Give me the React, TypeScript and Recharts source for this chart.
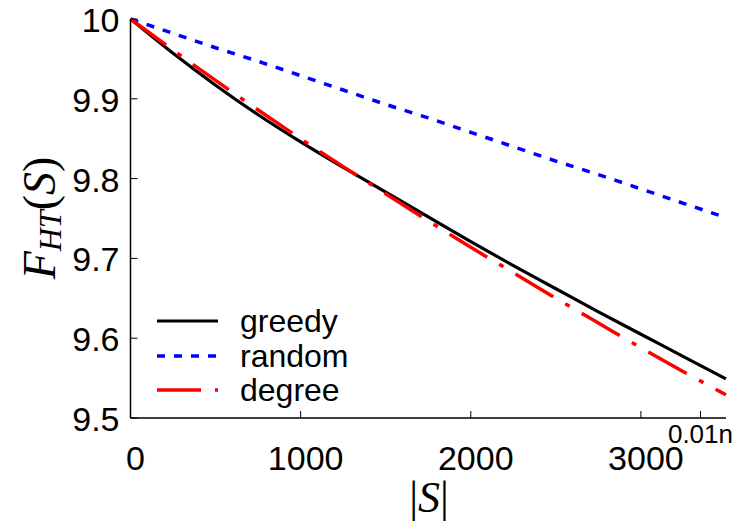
import { LineChart, Line, XAxis, YAxis, Label } from 'recharts'

// |S| values and F_HT(S)
const sizes = [0, 250, 500, 750, 1000, 1250, 1500, 1750, 2000, 2250, 2500, 2750, 3000, 3250, 3500]
const greedy = [10, 9.957, 9.917, 9.88, 9.846, 9.814, 9.783, 9.752, 9.721, 9.691, 9.662, 9.633, 9.605, 9.577, 9.549]
const random = [10, 9.982, 9.964, 9.947, 9.929, 9.911, 9.893, 9.876, 9.858, 9.84, 9.822, 9.805, 9.787, 9.769, 9.751]
const degree = [10, 9.961, 9.923, 9.886, 9.85, 9.815, 9.781, 9.747, 9.714, 9.682, 9.65, 9.619, 9.588, 9.558, 9.529]

const xTicks = [0, 1000, 2000, 3000]
const markTick = 3350
const markLabel = '0.01n'
const yTicks = [9.5, 9.6, 9.7, 9.8, 9.9, 10]

const SERIES = [
  { key: 'greedy', name: 'greedy', color: '#000000', dash: undefined, width: 3.2 },
  { key: 'random', name: 'random', color: '#0000ff', dash: '8 9', width: 3.5 },
  { key: 'degree', name: 'degree', color: '#ff0000', dash: '44 14 5 14', width: 3.5 },
]

const data = sizes.map((s, i) => ({ s, greedy: greedy[i], random: random[i], degree: degree[i] }))

const FONT = '"Liberation Sans", Arial, sans-serif'
const SERIF = '"Liberation Serif", "Times New Roman", serif'

function XTick(props: any) {
  const { x, y, payload } = props
  if (payload.value === markTick) {
    return (
      <g>
        <line x1={x} x2={x} y1={y} y2={y - 7} stroke="#000" strokeWidth={1} />
        <text x={x} y={y + 25} textAnchor="middle" fontFamily={FONT} fontSize={26} fill="#000">
          {markLabel}
        </text>
      </g>
    )
  }
  return (
    <g>
      <line x1={x} x2={x} y1={y} y2={y - 7} stroke="#000" strokeWidth={1} />
      <text x={x + 5} y={y + 52} textAnchor="middle" fontFamily={FONT} fontSize={34} fill="#000">
        {payload.value}
      </text>
    </g>
  )
}

function YTick(props: any) {
  const { x, y, payload } = props
  return (
    <g>
      <line x1={x} x2={x + 7} y1={y} y2={y} stroke="#000" strokeWidth={1} />
      <text x={x - 11} y={y + 13} textAnchor="end" fontFamily={FONT} fontSize={34} fill="#000">
        {payload.value === 10 ? '10' : payload.value.toFixed(1)}
      </text>
    </g>
  )
}

function LegendBox() {
  return (
    <div
      style={{
        position: 'absolute',
        left: 157,
        top: 304,
        fontFamily: FONT,
        fontSize: 32,
        lineHeight: '34.5px',
        color: '#000',
      }}
    >
      {SERIES.map((s) => (
        <div key={s.key} style={{ display: 'flex', alignItems: 'center', height: 34.5 }}>
          <svg width={80} height={20} style={{ marginRight: 3 }}>
            <line x1={0} x2={61} y1={10} y2={10} stroke={s.color} strokeWidth={s.width} strokeDasharray={s.dash} />
          </svg>
          <span>{s.name}</span>
        </div>
      ))}
    </div>
  )
}

export default function App() {
  return (
    <div style={{ position: 'fixed', left: 0, top: 0, width: 750, height: 525, background: '#fff' }}>
      <LineChart width={750} height={525} data={data} margin={{ top: 19, right: 24, bottom: 47, left: 0 }}>
        <XAxis
          dataKey="s"
          type="number"
          domain={[0, 3500]}
          ticks={[...xTicks, markTick]}
          interval={0}
          height={60}
          tickSize={0}
          tickMargin={0}
          tick={<XTick />}
          axisLine={{ stroke: '#000', strokeWidth: 1.5 }}
          tickLine={false}
        >
          <Label
            content={() => (
              <text x={429} y={512} textAnchor="middle" fontFamily={SERIF} fontSize={44} fill="#000">
                |<tspan fontStyle="italic">S</tspan>|
              </text>
            )}
          />
        </XAxis>
        <YAxis
          type="number"
          domain={[9.5, 10]}
          ticks={yTicks}
          interval={0}
          width={130.5}
          tickSize={0}
          tickMargin={0}
          tick={<YTick />}
          axisLine={{ stroke: '#000', strokeWidth: 1.5 }}
          tickLine={false}
        >
          <Label
            content={() => (
              <text
                x={40}
                y={218}
                transform="rotate(-90, 40, 218)"
                textAnchor="middle"
                dy={15}
                fontFamily={SERIF}
                fontStyle="italic"
                fontSize={46}
                fill="#000"
              >
                F<tspan fontSize={32} dy={6}>HT</tspan>
                <tspan dy={-6} fontStyle="normal">(</tspan>S<tspan fontStyle="normal">)</tspan>
              </text>
            )}
          />
        </YAxis>
        {SERIES.map((s) => (
          <Line
            key={s.key}
            type="monotone"
            dataKey={s.key}
            name={s.name}
            stroke={s.color}
            strokeWidth={s.width}
            strokeDasharray={s.dash}
            dot={false}
            isAnimationActive={false}
          />
        ))}
      </LineChart>
      <LegendBox />
    </div>
  )
}
